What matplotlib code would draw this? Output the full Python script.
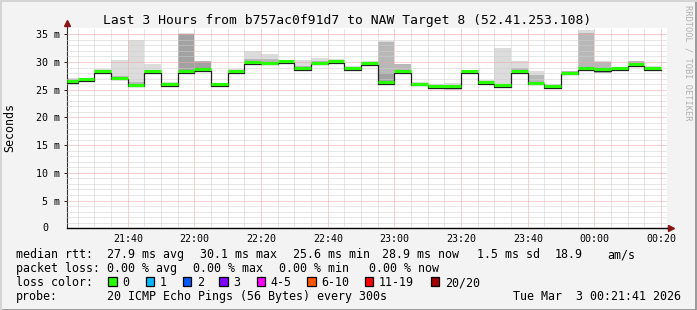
import numpy as np
import matplotlib
matplotlib.use("Agg")
import matplotlib.pyplot as plt
from matplotlib.patches import Rectangle

W, H = 697, 310
MONO = "DejaVu Sans Mono"

# time in minutes after 21:00; first step is partial (graph starts 21:21:41)
t_start = 21 + 41 / 60
t_end = t_start + 180
step_edges = [t_start] + list(range(25, 201, 5))

# median rtt per 5 min step (ms)
median = [26.6, 26.9, 28.4, 27.2, 25.9, 28.3, 26.0, 28.4, 28.7, 26.0,
          28.3, 30.0, 29.9, 30.1, 28.9, 29.9, 30.1, 28.9, 29.8, 26.4,
          28.3, 26.1, 25.7, 25.7, 28.3, 26.4, 25.8, 28.4, 26.3, 25.6,
          28.1, 28.9, 28.7, 28.9, 29.6, 28.9]

# smoke: full spread of pings
smoke_lo = [26.3, 26.4, 28.2, 26.9, 25.5, 28.0, 25.8, 28.0, 28.5, 25.8,
            27.9, 29.5, 29.6, 29.7, 28.6, 29.6, 29.7, 28.5, 29.5, 26.2,
            28.2, 25.9, 25.5, 24.9, 28.0, 26.1, 25.5, 28.0, 26.0, 25.3,
            27.9, 28.4, 28.0, 28.6, 29.4, 28.5]
smoke_hi = [27.2, 27.2, 28.7, 30.4, 33.9, 29.7, 26.4, 35.2, 30.1, 26.3,
            28.8, 32.0, 31.4, 30.4, 30.4, 30.7, 30.6, 29.2, 30.1, 33.7,
            29.7, 26.4, 26.0, 26.3, 28.6, 26.8, 32.6, 30.1, 28.4, 26.0,
            28.4, 35.7, 30.2, 29.1, 30.2, 29.2]
# denser part of the smoke
mid_lo = [26.4, 26.6, 28.3, 27.0, 25.6, 28.1, 25.9, 28.0, 28.5, 25.9,
          28.0, 29.6, 29.7, 29.8, 28.7, 29.7, 29.8, 28.6, 29.6, 26.2,
          28.2, 26.0, 25.6, 25.3, 28.1, 26.2, 25.6, 28.2, 26.2, 25.4,
          28.0, 28.5, 28.1, 28.7, 29.5, 28.6]
mid_hi = [26.9, 27.0, 28.5, 27.4, 26.4, 28.5, 26.2, 35.1, 30.1, 26.2,
          28.5, 30.6, 30.5, 30.3, 29.2, 30.2, 30.3, 29.0, 30.0, 33.6,
          29.6, 26.3, 25.9, 25.9, 28.5, 26.6, 26.1, 29.0, 27.6, 25.8,
          28.3, 35.2, 30.0, 29.0, 30.1, 29.0]
# darkest core (only where most pings cluster)
core_lo = [None] * 7 + [28.1, 28.6] + [None] * 9 + [29.7, 26.3] + [None] * 16
core_hi = [None] * 7 + [35.0, 30.0] + [None] * 9 + [29.9, 28.0] + [None] * 16

xtick_pos = [40, 60, 80, 100, 120, 140, 160, 180, 200]
xtick_labels = ["21:40", "22:00", "22:20", "22:40", "23:00", "23:20", "23:40", "00:00", "00:20"]
ytick_pos = [5, 10, 15, 20, 25, 30, 35]
ytick_labels = ["5 m", "10 m", "15 m", "20 m", "25 m", "30 m", "35 m"]

loss_labels = ["0", "1", "2", "3", "4-5", "6-10", "11-19", "20/20"]
loss_colors = ["#26ff00", "#00b8ff", "#0059ff", "#7e00ff", "#ff00ff", "#ff5500", "#ff0000", "#a10000"]


def fx(x):
    return x / W


def fy(y):
    return 1 - y / H


fig = plt.figure(figsize=(W / 100, H / 100), dpi=100, facecolor="#f3f3f3")
ax = fig.add_axes([fx(66.7), fy(228.3), 600 / W, 200 / H])
ax.set_facecolor("white")

edges = np.array(step_edges, dtype=float)
left = edges[:-1]
width = np.diff(edges)
med = np.array(median)

lo, hi = np.array(smoke_lo), np.array(smoke_hi)
ax.bar(left, hi - lo, width=width, bottom=lo, align="edge", color="#dcdcdc", linewidth=0, zorder=1)
mlo, mhi = np.array(mid_lo), np.array(mid_hi)
ax.bar(left, mhi - mlo, width=width, bottom=mlo, align="edge", color="#b8b8b8", linewidth=0, zorder=1.1)
cmask = np.array([v is not None for v in core_lo])
clo = np.array([v for v in core_lo if v is not None])
chi = np.array([v for v in core_hi if v is not None])
ax.bar(left[cmask], chi - clo, width=width[cmask], bottom=clo, align="edge",
       color="#a2a2a2", linewidth=0, zorder=1.2)

# median: dark step line with loss-coloured segments sitting on it
ax.step(edges, np.append(med, med[-1]) - 0.3, where="post", color="#202020", lw=0.9, zorder=3)
ax.hlines(med, left, edges[1:], color=loss_colors[0], lw=2.2, zorder=4)

ax.set_xlim(t_start, t_end)
ax.set_ylim(0, 36.08)

# grid
ax.set_xticks(xtick_pos)
ax.set_xticks([m for m in range(25, 201, 5) if m not in xtick_pos], minor=True)
ax.set_yticks(ytick_pos)
ax.set_yticks([v for v in range(1, 36) if v % 5], minor=True)
ax.grid(which="minor", color="#cfcfcf", lw=0.72, linestyle=(0, (1, 1)), zorder=2.5)
ax.grid(which="major", color="#f0a4a4", lw=0.72, linestyle=(0, (1, 1)), zorder=2.6)
ax.set_axisbelow(False)

ax.set_xticklabels(xtick_labels, family=MONO, fontsize=7.2)
ax.set_yticklabels(ytick_labels, family=MONO, fontsize=7.2)
ax.tick_params(axis="x", which="major", length=0, pad=4.0)
ax.tick_params(axis="y", which="major", length=2.2, width=0.7, pad=2.6, color="#202020")
ax.tick_params(which="minor", length=0)
ax.text(fx(45.2 - 66.7) * W / 600, 0, "0", transform=ax.get_yaxis_transform(),
        ha="center", va="center", family=MONO, fontsize=7.2)

for s in ["top", "right"]:
    ax.spines[s].set_visible(False)
ax.spines["left"].set_color("#303030")
ax.spines["bottom"].set_color("#000000")
ax.spines["left"].set_linewidth(0.8)
ax.spines["bottom"].set_linewidth(1.0)

# axis extensions with arrows
ax.plot([0, 0], [1, 1.02], transform=ax.transAxes, clip_on=False, color="#303030", lw=0.8)
ax.plot([1, 1.006], [0, 0], transform=ax.transAxes, clip_on=False, color="#000000", lw=1.0)
ax.plot([0], [1.026], marker="^", ms=4, color="#8b1515", transform=ax.transAxes, clip_on=False)
ax.plot([1.0075], [0], marker=">", ms=4, color="#8b1515", transform=ax.transAxes, clip_on=False)

# title, unit label, watermark
fig.text(fx(346.7), fy(24), "Last 3 Hours from b757ac0f91d7 to NAW Target 8 (52.41.253.108)",
         ha="center", va="baseline", family=MONO, fontsize=9.4)
fig.text(fx(9.5), fy(127.5), "Seconds", rotation=90, ha="center", va="center",
         family=MONO, fontsize=8.4)
fig.text(fx(688), fy(5), "RRDTOOL / TOBI OETIKER", rotation=270, ha="center", va="top",
         family=MONO, fontsize=6.2, color="#b0b0b0")

# legend rows
LG = dict(family=MONO, fontsize=8.4, va="baseline", ha="left")
row1 = [(16, "median rtt:"), (107, "27.9 ms avg"), (200, "30.1 ms max"), (293, "25.6 ms min"),
        (381.5, "28.9 ms now"), (477, "1.5 ms sd"), (555, "18.9"), (607.5, "am/s")]
row2 = [(16, "packet loss:"), (107, "0.00 % avg"), (193, "0.00 % max"), (279, "0.00 % min"),
        (369, "0.00 % now")]
row4 = [(16, "probe:"), (107, "20 ICMP Echo Pings (56 Bytes) every 300s"),
        (513, "Tue Mar  3 00:21:41 2026")]
for x, s in row1:
    fig.text(fx(x), fy(258), s, **LG)
for x, s in row2:
    fig.text(fx(x), fy(272), s, **LG)
for x, s in row4:
    fig.text(fx(x), fy(300), s, **LG)
fig.text(fx(16), fy(286.5), "loss color:", **LG)
box_x = [108.3, 145.7, 182.7, 219.3, 256.7, 307.3, 365, 430.7]
for bx, lab, col in zip(box_x, loss_labels, loss_colors):
    fig.add_artist(Rectangle((fx(bx), fy(286)), 8.4 / W, 8.6 / H, transform=fig.transFigure,
                             facecolor=col, edgecolor="black", lw=0.9))
    fig.text(fx(bx + 14), fy(286.5), lab, **LG)

# image frame
fig.add_artist(Rectangle((0, 0), 1, 1.5 / H, transform=fig.transFigure, color="#9c9c9c", lw=0))
fig.add_artist(Rectangle((1 - 2.5 / W, 0), 2.5 / W, 1, transform=fig.transFigure, color="#9c9c9c", lw=0))
fig.add_artist(Rectangle((0, 0), 1.5 / W, 1, transform=fig.transFigure, color="#d4d4d4", lw=0))
fig.add_artist(Rectangle((0, 1 - 1.5 / H), 1, 1.5 / H, transform=fig.transFigure, color="#d4d4d4", lw=0))

fig.savefig("out.png", dpi=100, facecolor=fig.get_facecolor())
